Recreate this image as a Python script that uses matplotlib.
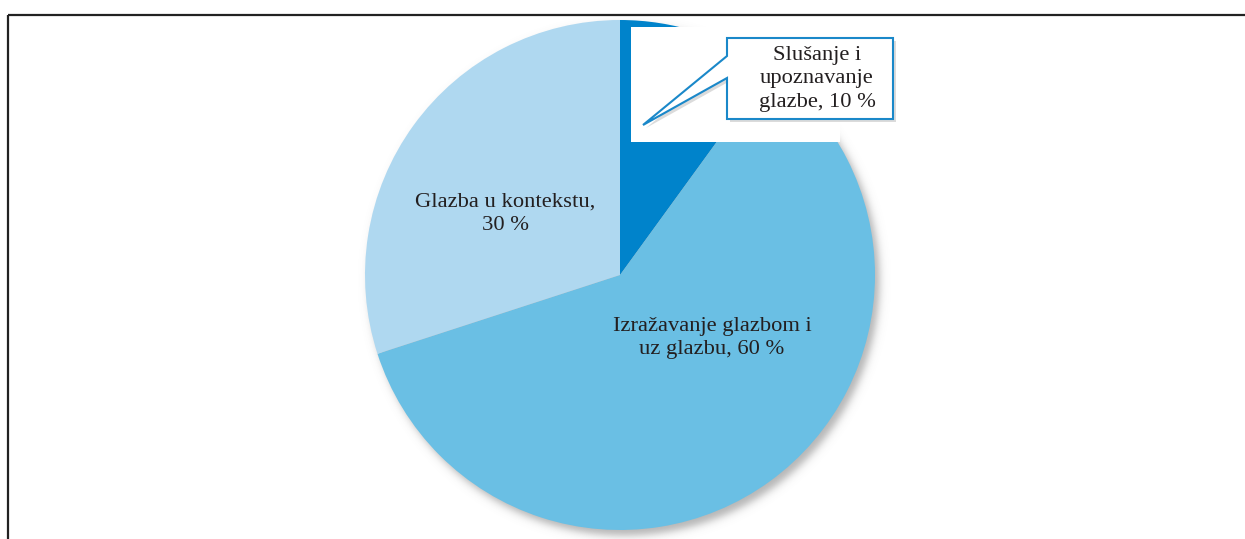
import matplotlib.pyplot as plt
from matplotlib.patches import Rectangle, Polygon
import numpy as np

# udjeli podrucja u nastavi glazbe
labels = ['Slušanje i\nupoznavanje\nglazbe, 10 %',
          'Izražavanje glazbom i\nuz glazbu, 60 %',
          'Glazba u kontekstu,\n30 %']
values = [10, 60, 30]
colors = ['#0083CB', '#6ABFE4', '#AFD8F0']

W, H = 1245, 539
plt.rcParams['font.family'] = ['Liberation Serif', 'DejaVu Serif']

fig = plt.figure(figsize=(W / 100, H / 100), dpi=100)
ax = fig.add_axes([0, 0, 1, 1])

cx, cy, r = 620, H - 275, 255

# meka sjena ispod kruga
yy, xx = np.mgrid[0:H, 0:W]
d = np.hypot(xx - (cx + 4), (H - yy) - (cy - 5))
shade = 0.45 * 0.5 * (1 - np.tanh((d - r) / 5.0))
rgba = np.zeros((H, W, 4))
rgba[..., :3] = 0.35
rgba[..., 3] = shade
ax.imshow(rgba, extent=(0, W, 0, H), origin='upper', zorder=1, interpolation='bilinear')

ax.pie(values, colors=colors, startangle=90, counterclock=False,
       center=(cx, cy), radius=r, frame=True,
       wedgeprops=dict(linewidth=0, zorder=2))

# bijelo polje iza oblacica
ax.add_patch(Rectangle((631, H - 142), 209, 115, facecolor='white',
                       edgecolor='none', zorder=3))

# oblacic s oznakom
callout = [(727, H - 38), (893, H - 38), (893, H - 119), (727, H - 119),
           (727, H - 78), (643, H - 125), (727, H - 56)]
shadow = [(x + 3, y - 3) for x, y in callout]
ax.add_patch(Polygon(shadow, closed=True, facecolor='#999999', alpha=0.35,
                     edgecolor='none', zorder=4))
ax.add_patch(Polygon(callout, closed=True, facecolor='white',
                     edgecolor='#1A88C9', linewidth=1.5, zorder=5))

txt = dict(color='#231F20', fontsize=16.2, ha='center', va='center',
           linespacing=1.3, zorder=6)
ax.text(817, H - 79, labels[0], **txt)
ax.text(712, H - 338, labels[1], **txt)
ax.text(505, H - 214, labels[2], **txt)

# okvir gore i lijevo
ax.plot([7.5, W], [H - 14.5, H - 14.5], color='#222222', lw=1.6, zorder=7,
        solid_capstyle='butt')
ax.plot([7.5, 7.5], [0, H - 14.5], color='#222222', lw=1.6, zorder=7,
        solid_capstyle='butt')

ax.set_xlim(0, W)
ax.set_ylim(0, H)
ax.set_aspect('auto')
ax.axis('off')

fig.savefig('out.png', dpi=100)
